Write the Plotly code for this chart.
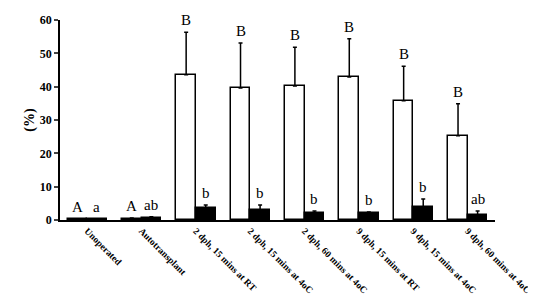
import plotly.graph_objects as go

categories = ["Unoperated", "Autotransplant", "2 dph, 15 mins at RT", "2 dph, 15 mins at 4oC",
              "2 dph, 60 mins at 4oC", "9 dph, 15 mins at RT", "9 dph, 15 mins at 4oC", "9 dph, 60 mins at 4oC"]
white_vals = [0.2, 0.4, 43.6, 39.6, 40.2, 42.9, 35.8, 25.3]
white_err = [0.1, 0.2, 12.7, 13.5, 11.6, 11.5, 10.3, 9.6]
black_vals = [0.3, 0.6, 3.6, 3.1, 2.1, 2.1, 3.9, 1.6]
black_err = [0.1, 0.4, 0.9, 1.4, 0.6, 0.3, 2.4, 1.1]
white_letters = ["A", "A", "B", "B", "B", "B", "B", "B"]
black_letters = ["a", "ab", "b", "b", "b", "b", "b", "ab"]

xs = list(range(len(categories)))
off = 0.18
wx = [x - off for x in xs]
bx = [x + off for x in xs]

fig = go.Figure()
fig.add_trace(go.Bar(x=wx, y=white_vals, width=0.36, marker=dict(color="white", line=dict(color="black", width=1.5)),
                     error_y=dict(type="data", array=white_err, arrayminus=[0]*8, symmetric=False,
                                  color="black", thickness=1.5, width=2)))
fig.add_trace(go.Bar(x=bx, y=black_vals, width=0.36, marker=dict(color="black", line=dict(color="black", width=1.5)),
                     error_y=dict(type="data", array=black_err, arrayminus=[0]*8, symmetric=False,
                                  color="black", thickness=1.5, width=2)))

ann = []
for i in xs:
    ann.append(dict(x=wx[i], y=white_vals[i] + white_err[i], text=white_letters[i], showarrow=False,
                    yanchor="bottom", yshift=2, font=dict(family="Liberation Serif", size=15, color="black")))
    ann.append(dict(x=bx[i], y=black_vals[i] + black_err[i], text=black_letters[i], showarrow=False,
                    yanchor="bottom", yshift=2, font=dict(family="Liberation Serif", size=15, color="black")))

fig.update_layout(
    width=536, height=299, margin=dict(l=52, r=49, t=12, b=87),
    plot_bgcolor="white", paper_bgcolor="white", showlegend=False, bargap=0,
    annotations=ann,
    font=dict(family="Liberation Serif", color="black"),
)
fig.update_xaxes(range=[-0.5, 7.5], tickmode="array", tickvals=xs, ticktext=categories, tickangle=45,
                 showline=True, linecolor="black", linewidth=1.5, ticks="", showgrid=False, zeroline=False,
                 automargin=False,
                 tickfont=dict(family="Liberation Serif", size=9.5, color="black", weight="bold"))
fig.update_yaxes(range=[0, 60], tickvals=[0, 10, 20, 30, 40, 50, 60], showline=True, linecolor="black",
                 linewidth=1.5, ticks="outside", ticklen=4, tickwidth=1.5, showgrid=False, zeroline=False,
                 ticksuffix="\u2002", automargin=False,
                 tickfont=dict(family="Liberation Serif", size=12, color="black", weight="bold"),
                 title=dict(text="(%)", font=dict(family="Liberation Serif", size=14, color="black", weight="bold"), standoff=2))
fig.write_html("out.html")
